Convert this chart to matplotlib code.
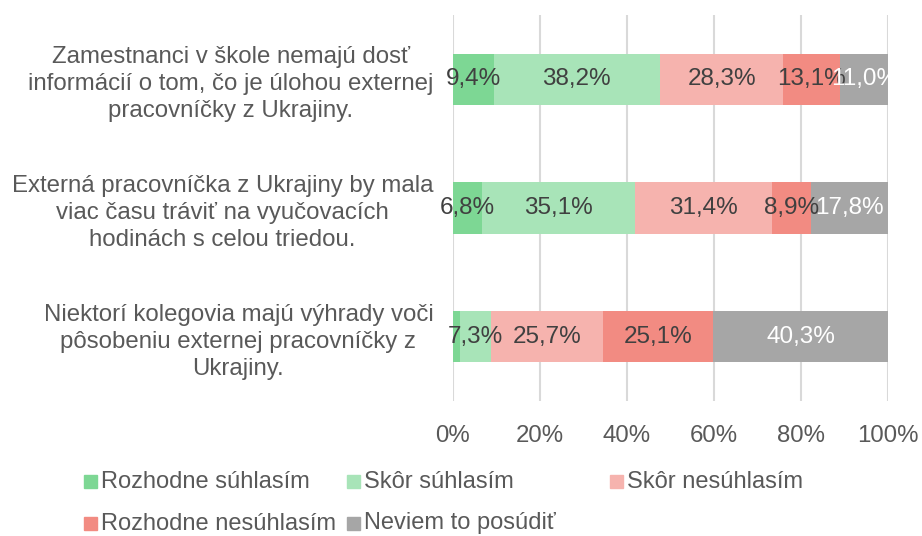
import matplotlib.pyplot as plt
from matplotlib.patches import Rectangle

plt.rcParams['font.family'] = ['Liberation Sans', 'DejaVu Sans']

statements = [
    "Zamestnanci v škole nemajú dosť\ninformácií o tom, čo je úlohou externej\npracovníčky z Ukrajiny.",
    "Externá pracovníčka z Ukrajiny by mala\nviac času tráviť na vyučovacích\nhodinách s celou triedou.",
    "Niektorí kolegovia majú výhrady voči\npôsobeniu externej pracovníčky z\nUkrajiny.",
]
answers = ["Rozhodne súhlasím", "Skôr súhlasím", "Skôr nesúhlasím",
           "Rozhodne nesúhlasím", "Neviem to posúdiť"]
colors = ["#7dd794", "#a8e4b8", "#f6b3ae", "#f28b82", "#a6a6a6"]

# percent per answer, one value per statement (top to bottom)
rozhodne_suhlasim = [9.4, 6.8, 1.6]
skor_suhlasim = [38.2, 35.1, 7.3]
skor_nesuhlasim = [28.3, 31.4, 25.7]
rozhodne_nesuhlasim = [13.1, 8.9, 25.1]
neviem = [11.0, 17.8, 40.3]
series = [rozhodne_suhlasim, skor_suhlasim, skor_nesuhlasim,
          rozhodne_nesuhlasim, neviem]
show_label = [[True, True, False], [True] * 3, [True] * 3, [True] * 3, [True] * 3]

fig = plt.figure(figsize=(9.22, 5.36), dpi=100)
ax = fig.add_axes([0.491, 0.252, 0.4725, 0.720])

ypos = [0, 1, 2]
left = [0, 0, 0]
for vals, col, name, shows in zip(series, colors, answers, show_label):
    ax.barh(ypos, vals, left=left, height=0.4, color=col, label=name, zorder=2)
    txtcol = "white" if col == "#a6a6a6" else "#404040"
    for y, v, l, s in zip(ypos, vals, left, shows):
        if s:
            ax.text(l + v / 2, y, f"{v:.1f}%".replace(".", ","), ha="center",
                    va="center", fontsize=17.5, color=txtcol, zorder=3)
    left = [a + b for a, b in zip(left, vals)]

ax.set_xlim(0, 100)
ax.set_ylim(2.5, -0.5)
ax.set_xticks(range(0, 101, 20))
ax.set_xticklabels([f"{t}%" for t in range(0, 101, 20)])
ax.set_yticks(ypos)
ax.set_yticklabels(statements)
for lab in ax.get_yticklabels():
    lab.set_multialignment("center")
    lab.set_linespacing(1.3)
ax.tick_params(axis="both", length=0, labelsize=17.3, colors="#595959")
ax.tick_params(axis="y", pad=14)
ax.tick_params(axis="x", pad=17)
ax.grid(axis="x", color="#d9d9d9", linewidth=1.5, zorder=0)
for sp in ax.spines.values():
    sp.set_visible(False)

# legend, laid out like the Excel original
legend_pos = [(84, 481.5), (347, 481.5), (610, 481.5), (84, 523.5), (347, 523.5)]
W, H = 922, 536
for (px, py), col, name in zip(legend_pos, colors, answers):
    fig.patches.append(Rectangle((px / W, 1 - (py + 6.5) / H), 13 / W, 13 / H,
                                 color=col, transform=fig.transFigure))
    fig.text((px + 17) / W, 1 - py / H, name, ha="left", va="center",
             fontsize=17, color="#595959")

fig.savefig("out.png", dpi=100)
